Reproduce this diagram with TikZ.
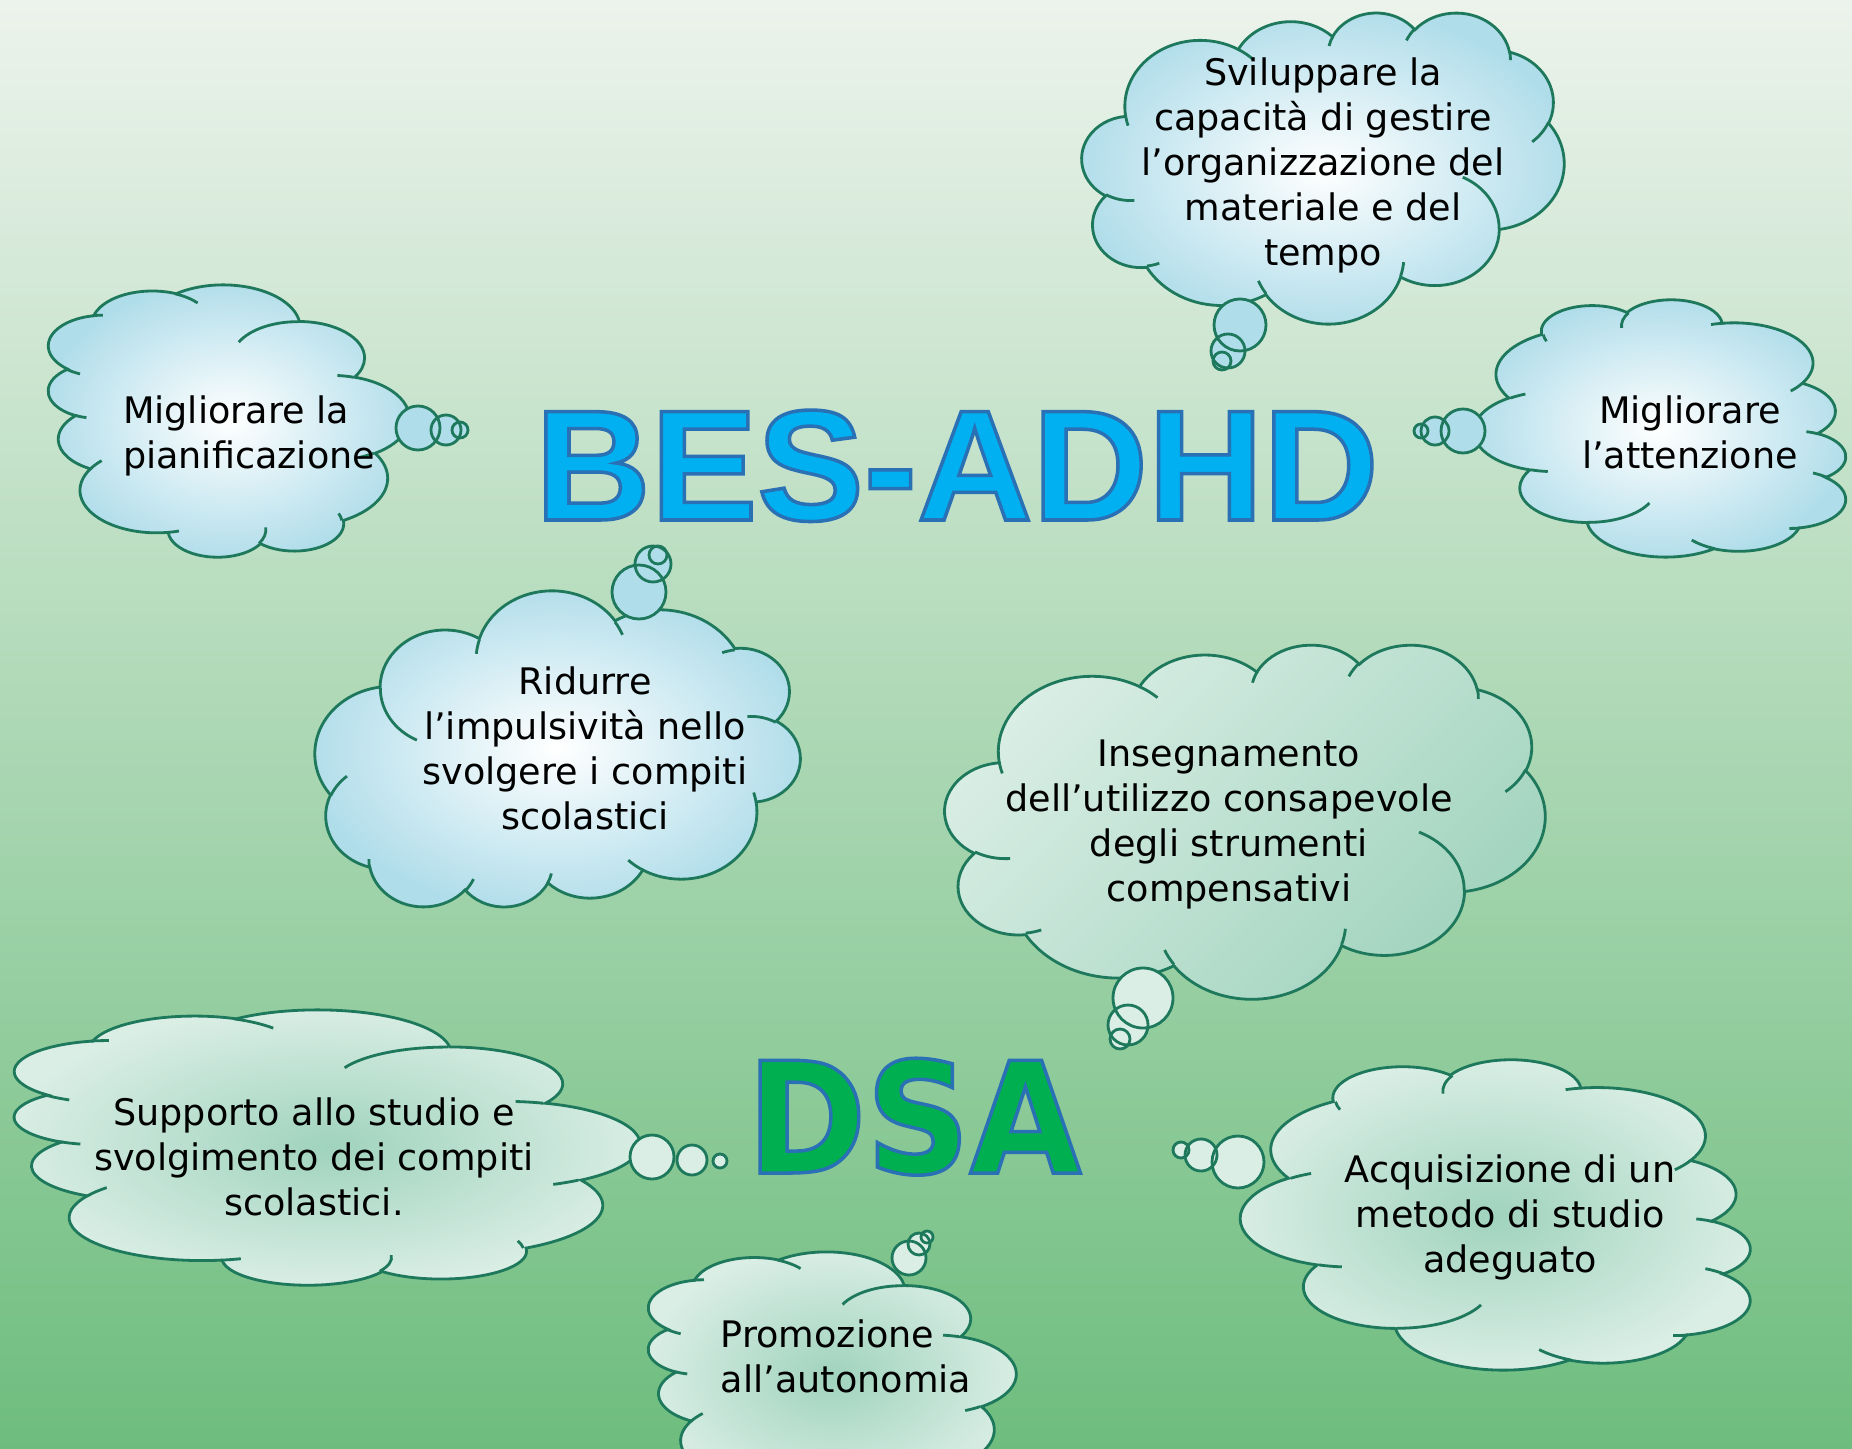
\documentclass[tikz,border=0pt]{standalone}
\usepackage{fontspec}
\setmainfont{DejaVu Sans}
\newfontfamily\besfont[FakeStretch=1.015]{Liberation Sans}
\newfontfamily\dsafont[FakeStretch=0.93]{DejaVu Sans}
\definecolor{cloudline}{RGB}{30,120,92}
\definecolor{cloudblue}{RGB}{176,221,234}
\definecolor{cloudgreen}{RGB}{160,211,190}
\definecolor{cloudpale}{RGB}{218,238,229}
\definecolor{bgtop}{RGB}{236,243,236}
\definecolor{bgbot}{RGB}{110,189,126}
\definecolor{besblue}{RGB}{0,176,240}
\definecolor{dsagreen}{RGB}{0,176,80}
\tikzstyle{celeste}=[inner color=white,outer color=cloudblue]
\tikzstyle{verde}=[inner color=cloudgreen,outer color=cloudpale]
\tikzstyle{sfumata}=[top color=cloudpale,bottom color=cloudgreen,shading angle=45]
\tikzstyle{tratto}=[draw=cloudline,line width=0.8pt]
\tikzstyle{testo}=[align=center,font=\fontsize{10.4}{12.8}\selectfont,inner sep=0pt]
\tikzstyle{bolla}=[circle,line width=0.8pt,inner sep=0pt]
% orientamento della nuvola nel suo riquadro x, y, larghezza, altezza
\tikzset{dritta/.style n args={4}{shift={(#1,#2)},xscale=#3/432,yscale=#4/432},
  sinistra/.style n args={4}{shift={(#1,#2+#4)},rotate=90,xscale=#4/432,yscale=#3/432},
  destra/.style n args={4}{shift={(#1+#3,#2)},rotate=-90,xscale=#4/432,yscale=#3/432},
  capovolta/.style n args={4}{shift={(#1+#3,#2+#4)},rotate=180,xscale=#3/432,yscale=#4/432}}
\newcommand{\contorno}{\special{pdf:literal 2 Tr 1 w 0.16 0.44 0.71 RG}}
\newcommand{\pieno}{\special{pdf:literal 0 Tr}}
% archi del bordo: raggio x / raggio y / angolo iniziale / ampiezza
\newcommand{\orlo}{67.53/91.90/-190.4875/123.7805, 53.33/72.67/-144.1024/89.9452,
  43.65/59.45/-145.8079/99.7230, 48.57/65.95/-130.9861/117.2417,
  53.33/72.73/-78.7089/109.0269, 67.75/92.20/-46.2673/130.2690,
  57.85/78.67/0.6250/114.0333, 67.52/92.15/22.4516/115.1726,
  77.20/105.43/66.2426/75.7110, 43.60/59.18/-274.9421/146.7356,
  43.45/59.45/-246.8285/152.5189}
% pieghe interne: punto / raggi / angoli
\newcommand{\pieghe}{46.93/261.77/43.45/59.45/86.742/26.4295,
  69.28/348.99/43.60/59.18/73.6105/11.4475, 164.78/390.90/67.52/92.15/137.6242/14.0811,
  288.27/347.51/67.52/92.15/6.4533/15.9984, 341.29/229.54/57.85/78.67/-70.2924/70.9174,
  417.98/153.54/53.33/72.73/30.3180/27.7515, 383.24/54.26/48.57/65.95/-13.7443/14.8589,
  290.78/39.52/48.57/65.95/-149.1815/18.1954, 221.41/47.20/43.65/59.45/-163.4943/17.6864,
  140.00/51.92/67.53/91.90/-66.7070/12.3194, 41.27/157.89/67.53/91.90/157.6544/11.8582}
\newcommand{\nuvola}[6]{% orientamento, x, y, larghezza, altezza, riempimento
  \begin{scope}[#1={#2}{#3}{#4}{#5}]
  \path[#6,tratto] (39,143.7) \foreach \rx/\ry/\st/\sw [evaluate={\st as \ts using atan2(\rx*sin(\st),\ry*cos(\st))},
      evaluate={\sw as \dt using mod(atan2(\rx*sin(\st+\sw),\ry*cos(\st+\sw))-\ts+720,360)}] in \orlo
    {arc[start angle=\ts,delta angle=\dt,x radius=\rx,y radius=\ry]} -- cycle;
  \foreach \px/\py/\rx/\ry/\st/\sw [evaluate={\st as \ts using atan2(\rx*sin(\st),\ry*cos(\st))},
      evaluate={\sw as \dt using mod(atan2(\rx*sin(\st+\sw),\ry*cos(\st+\sw))-\ts+720,360)}] in \pieghe
    \draw[tratto] (\px,\py) arc[start angle=\ts,delta angle=\dt,x radius=\rx,y radius=\ry];
  \end{scope}}
\newcommand{\bolle}{1240/325/26/cloudblue,1228/351/17/cloudblue,1222/361/9/cloudblue,
  418/428/22/cloudblue,446/430/15/cloudblue,460/430/8/cloudblue,
  1463/431/22/cloudblue,1435/431/14/cloudblue,1421/431/7/cloudblue,
  639/592/27/cloudblue,653/564/18/cloudblue,658/555/9/cloudblue,
  1143/998/30/cloudpale,1128/1025/20/cloudpale,1120/1039/10/cloudpale,
  652/1157/22/cloudpale,692/1160/15/cloudpale,720/1161/7/cloudpale,
  909/1258/17/cloudpale,919/1244/11/cloudpale,927/1237/6/cloudpale,
  1238/1162/26/cloudpale,1201/1155/16/cloudpale,1181/1150/8/cloudpale}

\begin{document}
\begin{tikzpicture}[x=0.1mm,y=-0.1mm]
\useasboundingbox (0,0) rectangle (1852,1448);
\clip (0,0) rectangle (1852,1448);
\shade[top color=bgtop,bottom color=bgbot] (0,0) rectangle (1852,1448);

% nuvole
\nuvola{dritta}{1082}{12}{482}{311}{celeste}
\nuvola{sinistra}{47}{285}{361}{272}{celeste}
\nuvola{destra}{1475}{300}{372}{257}{celeste}
\nuvola{capovolta}{315}{592}{485}{316}{celeste}
\nuvola{dritta}{945}{644}{600}{354}{sfumata}
\nuvola{sinistra}{12}{1010}{626}{275}{verde}
\nuvola{sinistra}{647}{1252}{368}{250}{verde}
\nuvola{destra}{1242}{1060}{510}{310}{verde}

% bolle: prima il fondo, poi i bordi
\foreach \x/\y/\r/\c [count=\i] in \bolle
  \node[bolla,fill=\c,minimum size=\r*0.2mm] (bolla\i) at (\x,\y) {};
\foreach \x/\y/\r/\c [count=\i] in \bolle
  \node[bolla,draw=cloudline,minimum size=\r*0.2mm] (orlo\i) at (\x,\y) {};

% testi
\node[testo] (tSvil) at (1323,165) {Sviluppare la\\capacità di gestire\\l’organizzazione del\\materiale e del\\tempo};
\node[testo,align=left] (tPian) at (249,436) {Migliorare la\\pianificazione};
\node[testo] (tAtt) at (1690,432) {Migliorare\\l’attenzione};
\node[testo] (tRid) at (585,748) {Ridurre\\l’impulsività nello\\svolgere i compiti\\scolastici};
\node[testo] (tIns) at (1229,824) {Insegnamento\\dell’utilizzo consapevole\\degli strumenti\\compensativi};
\node[testo] (tSup) at (314,1157) {Supporto allo studio e\\svolgimento dei compiti\\scolastici.};
\node[testo,align=left] (tPro) at (846,1356) {Promozione\\all’autonomia};
\node[testo] (tAcq) at (1510,1217) {Acquisizione di un\\metodo di studio\\adeguato};

% titoli
\node[anchor=base,inner sep=0pt,text=besblue,font=\besfont\bfseries\fontsize{44.8}{50}\selectfont] (bes) at (957,520) {\contorno BES-ADHD\pieno};
\node[anchor=base,inner sep=0pt,text=dsagreen,font=\dsafont\bfseries\fontsize{44}{50}\selectfont] (dsa) at (914,1173) {\contorno DSA\pieno};
\end{tikzpicture}
\end{document}
